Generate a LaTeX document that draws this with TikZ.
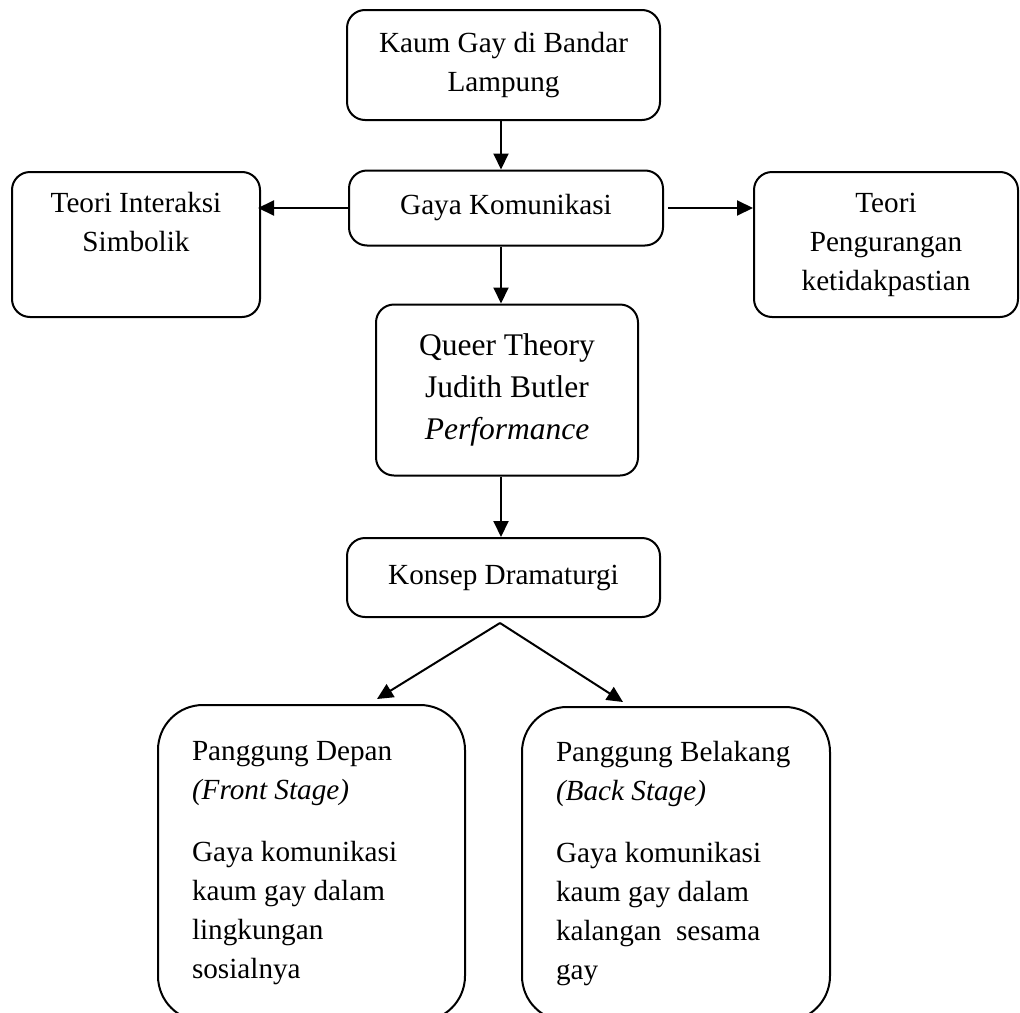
\documentclass[tikz,border=0pt]{standalone}
\usepackage{fontspec}
\setmainfont{Liberation Serif}
\usetikzlibrary{arrows.meta}
\begin{document}
\begin{tikzpicture}[x=1pt,y=-1pt,
  box/.style={draw, line width=2pt, rounded corners=18pt, align=center,
    font=\fontsize{29.2}{39}\selectfont, inner sep=0pt},
  bigbox/.style={draw, line width=2pt, rounded corners=45pt, align=flush left,
    font=\fontsize{29.2}{39}\selectfont, inner xsep=34pt, inner ysep=0pt},
  arr/.style={line width=2pt, -{Triangle[width=15pt,length=16pt]}}]
\useasboundingbox (0,0) rectangle (1020,1012);
\clip (0,0) rectangle (1020,1012);

\coordinate (spine) at (501,0);

\node[box, minimum width=313pt, minimum height=110pt] (top) at (503.5,65)
  {Kaum Gay di Bandar\\Lampung};
\node[box, minimum width=314pt, minimum height=75pt] (gaya) at (506,208)
  {Gaya Komunikasi};
\node[box, minimum width=248pt, minimum height=145pt] (ti) at (136,244.5)
  {Teori Interaksi\\Simbolik\\\mbox{}\vphantom{p}};
\node[box, minimum width=264pt, minimum height=145pt] (tp) at (886,244.5)
  {Teori\\Pengurangan\\ketidakpastian};
\node[box, minimum width=262pt, minimum height=171pt,
  font=\fontsize{31.5}{42}\selectfont] (queer) at (507,390)
  {Queer Theory\\Judith Butler\\\textit{Performance}};
\node[box, minimum width=313pt, minimum height=79pt] (konsep) at (503.5,577.5)
  {Konsep Dramaturgi};
\node[bigbox, minimum width=307pt, minimum height=316pt, text width=239pt] (front) at (311.5,863)
  {Panggung Depan\\\textit{(Front Stage)}\\[23pt]Gaya komunikasi\\kaum gay dalam\\lingkungan\\sosialnya};
\node[bigbox, minimum width=308pt, minimum height=314pt, text width=240pt] (back) at (676,864)
  {Panggung Belakang\\\textit{(Back Stage)}\\[23pt]Gaya komunikasi\\kaum gay dalam\\kalangan\ \ sesama\\gay};

\coordinate (fork) at (500,623);
\coordinate (tipL) at (377,699);
\coordinate (tipR) at (623,702);

\draw[arr] (top.south -| spine) -- (gaya.north -| spine);
\draw[arr] (gaya.south -| spine) -- (queer.north -| spine);
\draw[arr] (queer.south -| spine) -- (konsep.north -| spine);
\draw[arr, shorten >=-3pt] (gaya.west) -- (gaya.west -| ti.east);
\draw[arr, shorten <=4pt] (gaya.east) -- (gaya.east -| tp.west);
\draw[arr] (fork) -- (tipL);
\draw[arr] (fork) -- (tipR);
\end{tikzpicture}
\end{document}
